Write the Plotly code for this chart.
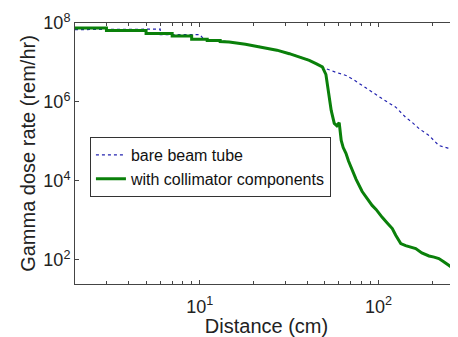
import plotly.graph_objects as go
import math

# Green: with collimator components
green_x = [2.0, 3.0, 3.0, 5.0, 5.0, 7.0, 7.0, 9.0, 9.0, 11.0, 11.0, 13.0, 13.0, 14.6, 18.0, 22.4,
           27.0, 31.7, 36.0, 41.0, 45.0, 48.5,
           50.8, 51.7, 53.0, 54.4, 56.6, 58.5, 60.3, 61.9, 63.5, 65.8, 68.0, 70.2, 75.0, 81.1, 86.0,
           92.2, 97.0, 101.0, 105.0, 112.0, 119.6, 125.0, 133.4, 142.0, 152.0, 161.8, 175.0, 192.0,
           205.0, 218.0, 232.0, 248.0, 262.0, 279.0]
green_y = [7.5e7, 7.5e7, 6.5e7, 6.5e7, 5.4e7, 5.4e7, 4.7e7, 4.7e7, 3.9e7, 3.9e7, 3.6e7, 3.6e7,
           3.4e7, 3.3e7, 2.9e7, 2.46e7, 2.05e7, 1.67e7, 1.38e7, 1.13e7, 9.2e6, 7.7e6,
           5.0e6, 2.96e6, 1.33e6, 6.1e5, 2.86e5, 2.5e5, 3.0e5, 1.06e5, 7.0e4, 5.0e4, 3.2e4, 2.2e4,
           1.1e4, 5.4e3, 3.6e3, 2.4e3, 1.9e3, 1.49e3, 1.2e3, 860, 621, 420, 259, 230, 210, 193,
           150, 126, 118, 108, 90, 72, 60, 50]

# Blue dotted: bare beam tube
blue_x = [2.0, 3.0, 3.0, 6.0, 6.0, 10.0, 10.5, 13.0, 15.0, 22.0, 32.0, 41.0, 48.5, 50.8, 58.0,
          65.8, 73.0, 81.0, 90.0, 101.0, 112.0, 125.0, 142.0, 155.0, 169.0, 192.0, 218.0, 245.0,
          270.0, 279.0]
blue_y = [6.8e7, 6.8e7, 7.0e7, 7.0e7, 5.1e7, 5.1e7, 3.9e7, 3.5e7, 3.3e7, 2.5e7, 1.7e7, 1.15e7,
          7.9e6, 7.0e6, 5.6e6, 4.7e6, 3.6e6, 2.63e6, 1.9e6, 1.33e6, 1.0e6, 7.4e5, 4.1e5, 3.0e5,
          2.1e5, 1.42e5, 7.9e4, 6.8e4, 6.5e4, 5.9e4]

x_major = [10, 100]
x_major_text = ["10<sup>1</sup>", "10<sup>2</sup>"]
x_minor = [2, 3, 4, 5, 6, 7, 8, 9, 20, 30, 40, 50, 60, 70, 80, 90, 200, 300]
y_major = [1e2, 1e4, 1e6, 1e8]
y_major_text = ["10<sup>2</sup>", "10<sup>4</sup>", "10<sup>6</sup>", "10<sup>8</sup>"]

fig = go.Figure()
fig.add_trace(go.Scatter(x=blue_x, y=blue_y, mode="lines", name="bare beam tube",
                         line=dict(color="#2323b0", width=1.2, dash="dot")))
fig.add_trace(go.Scatter(x=green_x, y=green_y, mode="lines", name="with collimator components",
                         line=dict(color="#0a800a", width=3)))

font = "Liberation Sans"
# page body has an 8px default margin, so the figure is drawn 8px in from the top-left
fig.update_layout(
    width=450, height=329,
    margin=dict(l=67, r=0, t=15, b=53),
    paper_bgcolor="white", plot_bgcolor="white",
    font=dict(family=font, color="#222222", size=18),
    showlegend=True,
    legend=dict(x=0.039, y=0.563, xanchor="left", yanchor="top",
                bgcolor="white", bordercolor="#333333", borderwidth=1,
                font=dict(size=16, family=font, color="#111111"),
                tracegroupgap=0),
    xaxis=dict(type="log", range=[math.log10(2), math.log10(279)], automargin=False,
               tickvals=x_major, ticktext=x_major_text, ticks="inside", ticklen=4,
               tickcolor="#444444", showline=True, linecolor="#444444", mirror="ticks",
               showgrid=False, zeroline=False, ticklabelstandoff=6,
               minor=dict(tickvals=x_minor, ticks="inside", ticklen=3, tickcolor="#444444", showgrid=False),
               title=dict(text="Distance (cm)", font=dict(size=20, family=font), standoff=0),
               tickfont=dict(size=18)),
    yaxis=dict(type="log", range=[1.39, 8.0], automargin=False,
               tickvals=y_major, ticktext=y_major_text, ticks="inside", ticklen=4,
               tickcolor="#444444", showline=True, linecolor="#444444", mirror=False,
               showgrid=False, zeroline=False,
               title=dict(text="Gamma dose rate (rem/hr)", font=dict(size=20, family=font), standoff=2),
               tickfont=dict(size=18)),
)

fig.write_html("out.html")
